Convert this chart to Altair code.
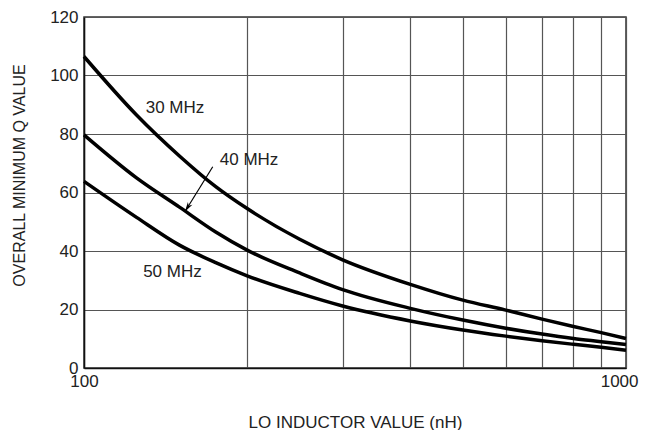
import altair as alt
import pandas as pd

# Inductance (nH) sample points
inductance = [100, 125, 150, 175, 200, 250, 300, 400, 500, 600, 700, 800, 900, 1000]
q_30mhz = [106.5, 86.5, 72.5, 62.0, 54.5, 44.0, 37.0, 28.6, 23.2, 19.8, 16.7, 14.2, 12.1, 10.1]
q_40mhz = [79.7, 65.0, 55.0, 46.5, 40.3, 32.5, 26.8, 20.4, 16.4, 13.6, 11.6, 10.1, 9.0, 8.0]
q_50mhz = [63.8, 51.5, 42.0, 36.0, 31.5, 25.5, 21.2, 16.1, 13.0, 10.9, 9.3, 8.1, 7.1, 6.1]

series_names = ["30 MHz", "40 MHz", "50 MHz"]

# curve labels
label_text = ["30 MHz", "40 MHz", "50 MHz"]
label_x = [147.2, 201.6, 145.6]
label_y = [88.9, 71.1, 32.9]

# arrow for 40 MHz label
arrow_x = [172.8, 153.5]
arrow_y = [68.8, 53.4]

x_ticks = [100, 200, 300, 400, 500, 600, 700, 800, 900, 1000]
y_ticks = [0, 20, 40, 60, 80, 100, 120]

rows = []
for name, vals in zip(series_names, [q_30mhz, q_40mhz, q_50mhz]):
    for L, q in zip(inductance, vals):
        rows.append({"series": name, "L": L, "Q": q})
df = pd.DataFrame(rows)

labels_df = pd.DataFrame({"text": label_text, "L": label_x, "Q": label_y})
arrow_df = pd.DataFrame({"L": arrow_x, "Q": arrow_y, "order": [0, 1]})
tip_df = pd.DataFrame({"L": [arrow_x[1]], "Q": [arrow_y[1]]})

FONT = "Liberation Sans, Arial, sans-serif"

x_enc = alt.X(
    "L:Q",
    scale=alt.Scale(type="log", domain=[100, 1000], nice=False),
    axis=alt.Axis(
        title="LO INDUCTOR VALUE (nH)",
        values=x_ticks,
        format="d",
        labelExpr="(datum.value == 100 || datum.value == 1000) ? datum.label : ''",
        labelAlign={"condition": {"test": "datum.value == 1000", "value": "right"}, "value": "center"},
        labelOffset={"condition": {"test": "datum.value == 1000", "value": 12}, "value": 0},
        ticks=False,
        grid=True,
        labelOverlap=False,
        labelFlush=False,
        labelBound=False,
        labelPadding=5,
        titlePadding=25,
        titleFontSize=17,
    ),
)
y_enc = alt.Y(
    "Q:Q",
    scale=alt.Scale(domain=[0, 120], nice=False),
    axis=alt.Axis(
        title="OVERALL MINIMUM Q VALUE",
        values=y_ticks,
        ticks=False,
        grid=True,
        labelPadding=6,
        titlePadding=22,
        titleFontSize=16,
        titleY=158,
    ),
)

lines = alt.Chart(df).mark_line(
    color="black", strokeWidth=3.5, interpolate="monotone"
).encode(x=x_enc, y=y_enc, detail="series:N")

texts = alt.Chart(labels_df).mark_text(
    font=FONT, fontSize=17, color="#222", align="center", baseline="middle"
).encode(x="L:Q", y="Q:Q", text="text:N")

arrow_line = alt.Chart(arrow_df).mark_line(color="black", strokeWidth=1.2).encode(
    x="L:Q", y="Q:Q", order="order:Q"
)
arrow_head = alt.Chart(tip_df).mark_point(
    shape="M0,0L0.5,1.9L0,1.35L-0.5,1.9Z",
    filled=True,
    color="black",
    opacity=1,
    size=110,
    angle=212,
).encode(x="L:Q", y="Q:Q")

chart = (
    alt.layer(lines, arrow_line, arrow_head, texts)
    .properties(
        width=542,
        height=351,
        autosize=alt.AutoSizeParams(type="none"),
        padding={"left": 76, "top": 9, "right": 14, "bottom": 62},
        background="white",
    )
    .configure_view(stroke="#333", strokeWidth=1.5)
    .configure_axis(
        labelFont=FONT,
        titleFont=FONT,
        labelFontSize=17,
        labelColor="#222",
        titleColor="#222",
        titleFontWeight="normal",
        gridColor="#555",
        gridWidth=1.2,
        gridOpacity=1,
        domainColor="#111",
        domainWidth=1.5,
    )
)

chart.save("out.html", embed_options={"renderer": "svg", "actions": False})
